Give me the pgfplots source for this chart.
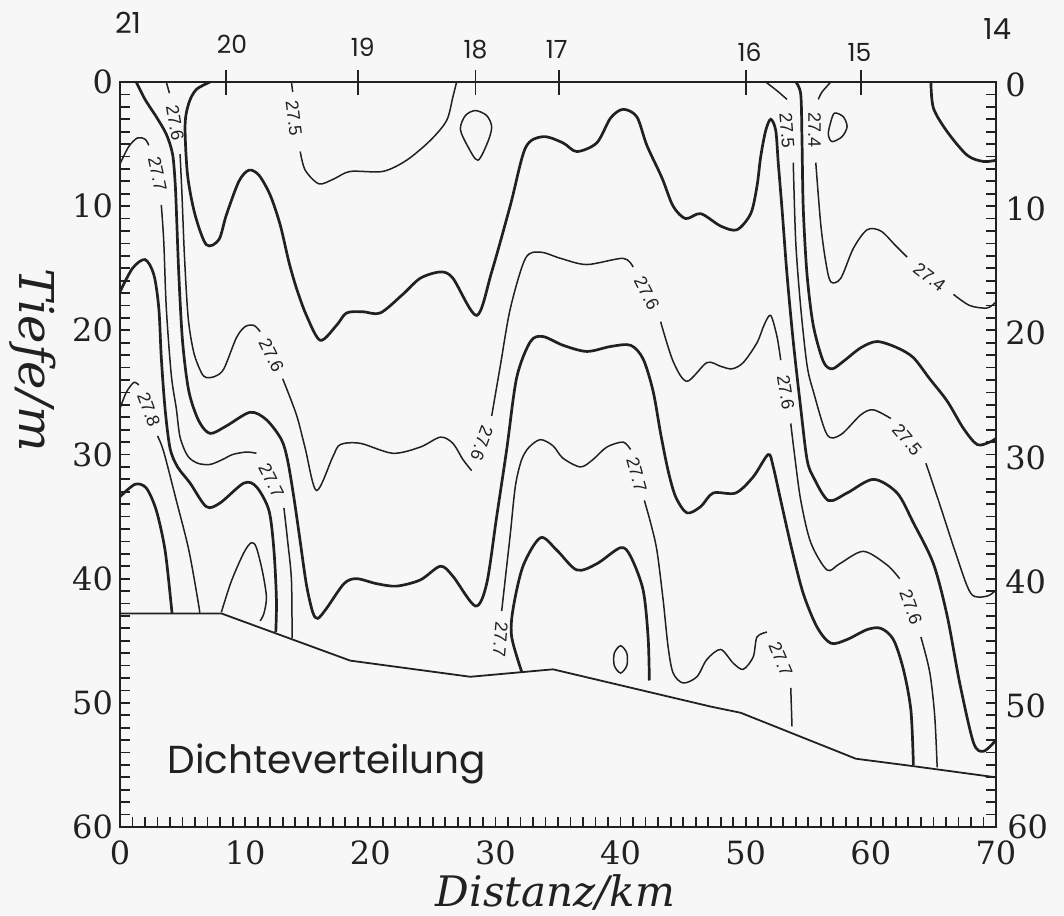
\documentclass[border=0pt]{standalone}
\usepackage{pgfplots}
\pgfplotsset{compat=1.18}
\usepackage{fontspec}
\newfontfamily\serifdv{DejaVu Serif}
\newfontfamily\popp{Poppins}
\newfontfamily\lsans{Liberation Sans}
\definecolor{ink}{gray}{0.13}
\pgfplotsset{
  thk/.style={line width=1.35pt, ink, smooth, tension=0.5, mark=none},
  thn/.style={line width=0.75pt, ink, smooth, tension=0.5, mark=none},
}
\tikzset{
  lbl/.style={font=\lsans\fontsize{9}{10}\selectfont, inner sep=0pt, text=ink},
  stn/.style={font=\popp\fontsize{12.5}{14}\selectfont, inner sep=0pt, text=ink},
  rtk/.style={font=\serifdv\fontsize{16}{18}\selectfont, inner sep=0pt, anchor=west, text=ink},
}
\begin{document}
\begin{tikzpicture}
\path[use as bounding box, fill=black!3] (-60pt,-44pt) rectangle (472pt,413.5pt);
\begin{axis}[
  at={(0pt,0pt)}, anchor=south west,
  scale only axis, width=438pt, height=372.5pt,
  xmin=0, xmax=70, ymin=0, ymax=60, y dir=reverse,
  axis line style={ink, line width=1pt},
  tick align=inside, xtick pos=left, ytick pos=both,
  xtick={0,10,...,70}, ytick={0,10,...,60},
  minor x tick num=9, minor y tick num=9,
  major tick length=5pt, minor tick length=5pt,
  every tick/.style={ink, line width=0.9pt},
  /pgf/number format/assume math mode=true,
  ticklabel style={font=\serifdv\fontsize{16}{18}\selectfont, text=ink},
  xticklabel style={yshift=-3.5pt},
  clip=false,
]
% sea floor
\addplot[ink, line width=0.9pt, mark=none] coordinates {(0,42.8)(8.1,42.8)(18.4,46.6)(28.0,47.9)(34.6,47.3)(47.2,50.3)(49.6,50.8)(58.8,54.5)(63.4,55.1)(70,56.0)};

% thick line A
\addplot[thk] coordinates {(1.3,0)(2.0,1.4)(2.9,2.8)(3.7,4.2)(4.2,5.8)(4.4,8)(4.5,10.2)(4.7,15.5)(5.0,20.9)(5.5,24.9)(6.3,27.3)(7.2,28.3)(8.5,27.7)(10.4,26.6)(11.7,27.2)(12.9,28.8)(13.4,30.5)(13.9,33.5)(14.4,37)(14.9,40.5)(15.4,42.7)(15.8,43.2)(16.5,42.4)(17.9,40.4)(18.9,40.0)(20.5,40.4)(22.1,40.6)(24.0,40.1)(25.6,39.0)(26.6,39.8)(28.4,42.2)(29.3,40.4)(30.1,35.0)(30.9,29.6)(31.7,23.8)(32.8,20.9)(33.8,20.5)(35.4,21.2)(37.3,21.7)(39.2,21.3)(40.8,21.2)(41.8,22.3)(42.6,24.9)(43.2,28.3)(43.8,31.3)(44.4,33.4)(45.3,34.7)(46.4,34.2)(47.4,33.1)(49.2,33.1)(50.6,31.8)(51.8,30.0)(52.2,31.0)(52.8,33.7)(53.7,37.7)(54.6,41.2)(55.7,43.9)(56.8,45.2)(58.1,44.9)(59.7,44.1)(60.8,44.0)(61.8,44.9)(62.6,47.3)(63.2,50.6)(63.4,55.0)};

% thick line H1
\addplot[thk] coordinates {(7.2,0)(6.1,0.6)(5.5,1.7)(5.2,3.5)(5.4,7.5)(6.0,10.7)(6.9,13.1)(7.9,12.7)(8.5,10.7)(9.5,8.0)(10.3,7.1)(11.1,7.5)(12.0,9.1)(12.8,11.5)(13.5,14.5)(14.1,16.6)(14.9,18.8)(16.0,20.8)(17.3,19.6)(18.1,18.6)(19.4,18.5)(20.8,18.6)(22.6,17.1)(24.0,15.8)(25.6,15.3)(26.6,15.8)(28.5,18.8)(29.7,15.3)(31.2,9.9)(32.4,5.3)(33.8,4.4)(35.4,4.9)(36.5,5.6)(38.1,4.9)(39.2,2.9)(40.2,2.2)(41.3,2.8)(42.1,5.1)(43.3,7.7)(44.2,10.0)(45.2,11.0)(46.4,10.6)(48.0,11.6)(49.3,11.9)(50.4,10.6)(50.9,8.4)(51.2,6.0)(51.6,3.9)(52.0,3.0)(52.4,3.9)(52.6,6.5)(52.9,10.2)(53.3,15.5)(53.8,20.9)(54.4,26.3)(54.9,30.4)(55.4,31.8)(56.6,33.7)(58.1,33.1)(60.2,32.0)(62.1,33.1)(63.4,35.5)(65.0,38.8)(66.1,43.0)(67.1,48.4)(68.2,53.2)(69.0,53.9)(70,53.0)};

% thin 27.6 main line
\addplot[thn] coordinates {(3.7,0)(3.95,0.9)};
\addplot[thn] coordinates {(4.8,5.8)(4.95,9)(5.15,14)(5.45,19)(5.9,21.8)(6.5,23.4)(6.9,23.8)(7.6,23.7)(8.3,23.1)(9.3,20.6)(10.0,19.7)(10.7,19.6)(11.2,20.1)};
\addplot[thn] coordinates {(13.0,23.9)(14.1,26.8)(14.8,29.5)(15.7,32.9)(17.0,30.2)(17.6,29.2)(19.2,29.1)(21.8,29.9)(24.0,29.4)(25.6,28.6)(26.6,29.1)(27.4,30.4)(28.1,31.3)};
\addplot[thn] coordinates {(29.7,26.9)(30.4,22.8)(31.2,18.2)(32.4,14.2)(33.6,13.7)(35.2,14.2)(37.3,14.7)(40.2,14.2)(41.0,14.9)};
\addplot[thn] coordinates {(43.2,19.3)(44.2,22.5)(45.3,24.1)(46.9,22.6)(48.0,22.9)(48.9,23.1)(49.8,22.6)(50.9,21.0)(51.5,19.5)(52.0,18.8)(52.5,20.5)(52.8,22.4)};
\addplot[thn] coordinates {(53.6,27.5)(53.9,30.0)(54.4,33.7)(55.2,37.1)(56.5,39.3)(57.5,38.8)(59.4,37.8)(61.3,38.9)(62.3,40.0)};
\addplot[thn] coordinates {(64.0,44.7)(64.7,47.5)(65.1,51)(65.3,55.2)};

% thin 27.5 (left)
\addplot[thn] coordinates {(13.7,0)(13.8,0.8)};
\addplot[thn] coordinates {(14.4,5.6)(14.8,7.1)(15.9,8.2)(17.1,7.8)(18.4,7.2)(21.0,7.2)(22.9,6.3)(24.8,4.7)(26.1,3.1)(26.6,1.2)(26.9,0)};

% thin 27.7 (left)
\addplot[thn] coordinates {(0,6.6)(0.7,5.2)(1.4,4.5)(2.0,4.6)(2.3,5.1)};
\addplot[thn] coordinates {(3.3,9.9)(3.5,12.9)(3.7,18.2)(4.1,23.6)(4.5,26.3)(4.8,28.6)(5.4,30.1)(6.2,30.7)(7.2,30.8)(8.2,30.4)(9.0,30.0)(10.1,29.8)(10.9,29.9)};
\addplot[thn] coordinates {(13.1,34.3)(13.4,37)(13.7,40.1)(13.75,44.8)};

% thin 27.8
\addplot[thn] coordinates {(0,26.3)(0.5,25.0)(1.1,24.2)(1.5,24.4)};
\addplot[thn] coordinates {(3.0,28.5)(3.5,29.8)(4.5,33.7)(5.5,37.7)(6.3,42.2)(6.35,42.8)};

% thick L1 and L0
\addplot[thk] coordinates {(0,16.9)(1.0,15.0)(2.0,14.3)(2.7,15.5)(3.1,18.2)(3.3,22.2)(3.6,26.3)(4.0,29.5)(4.6,31.0)(5.6,32.3)(6.9,34.2)(8.0,33.9)(9.9,32.3)(10.9,32.6)(11.9,34.5)(12.3,37.7)(12.5,41.7)(12.45,44.3)};
\addplot[thk] coordinates {(0,33.4)(1.2,32.4)(2.1,32.7)(2.9,34.5)(3.6,37.7)(4.1,42.2)(4.15,42.8)};

% inverted V thin
\addplot[thn] coordinates {(8.1,42.7)(8.9,40.2)(9.9,37.9)(10.5,37.1)(10.9,37.5)(11.4,39.5)(11.7,41.5)(11.5,42.8)(11.2,43.4)};

% thin 27.7 (middle)
\addplot[thn] coordinates {(30.5,42.6)(30.9,39)(31.2,36.3)(31.6,32.5)(32.1,30.4)(32.7,29.4)(33.6,28.8)(34.6,29.3)(35.4,30.3)(36.8,31.0)(37.8,30.4)(38.9,29.4)(40.2,29.0)(40.8,29.6)};
\addplot[thn] coordinates {(41.9,33.7)(42.4,35.5)(42.9,37.7)(43.4,41.7)(43.8,45.5)(44.2,47.6)(45.0,48.4)(46.1,47.9)(46.9,46.5)(48.0,45.7)(49.0,46.8)(49.8,47.3)(50.6,46.3)(50.9,44.7)(51.7,44.3)};
\addplot[thn] coordinates {(53.6,48.8)(53.7,51.9)};

% thick H3
\addplot[thk] coordinates {(32.1,47.5)(31.3,44.7)(31.4,42.5)(32.2,39.0)(33.6,36.7)(34.9,37.7)(36.5,39.3)(38.1,38.8)(40.0,37.5)(40.8,38.2)(41.8,40.9)(42.2,44.7)(42.3,48.2)};

% small closed contours
\addplot[thn, smooth cycle] coordinates {(40.0,45.4)(40.5,46.0)(40.5,47.0)(40.0,47.6)(39.5,47.0)(39.5,46.0)};
\addplot[thn, smooth cycle] coordinates {(28.4,2.3)(29.3,2.7)(29.7,3.6)(29.4,4.8)(28.6,6.3)(27.8,5.2)(27.2,3.8)(27.6,2.7)};
\addplot[thn, smooth cycle] coordinates {(57.1,2.5)(57.8,2.8)(58.1,3.6)(57.7,4.4)(56.9,4.8)(56.6,4.2)(56.8,3.2)};

% thin 27.5 (right)
\addplot[thn] coordinates {(51.6,0)(52.5,0.7)(53.3,1.4)};
\addplot[thn] coordinates {(53.8,6.5)(54.0,12.9)(54.4,18.2)(54.9,22.8)(55.4,24.9)(56.5,28.4)(57.6,28.4)(59.2,26.8)(60.2,26.4)(61.6,27.1)};
\addplot[thn] coordinates {(64.4,30.7)(65.5,34.0)(66.8,38.0)(68.0,41.2)(69.3,41.4)(70,40.9)};

% thick K
\addplot[thk] coordinates {(54.0,0)(54.4,1.0)(54.5,4.8)(54.6,10.2)(54.9,15.5)(55.4,19.6)(56.2,22.5)(56.9,23.1)(57.8,22.5)(59.2,21.4)(60.5,20.9)(62.1,21.4)(63.4,22.2)(64.7,23.9)(66.1,25.7)(67.4,27.9)(68.5,29.2)(69.5,29.0)(70,28.7)};

% thin 27.4 (right)
\addplot[thn] coordinates {(56.8,0)(56.1,0.8)(55.8,1.4)};
\addplot[thn] coordinates {(55.6,6.5)(56.0,11.5)(56.4,14.5)(56.8,16.1)(57.6,15.8)(58.6,13.4)(59.7,11.9)(60.8,12.0)(62.0,13.2)(62.9,14.1)};
\addplot[thn] coordinates {(66.6,17.1)(67.9,18.0)(69.3,18.2)(70,17.7)};

% thick top right
\addplot[thk] coordinates {(64.8,0)(65.0,2.1)(66.1,4.0)(67.7,5.9)(69.0,6.4)(70,6.3)};

% contour labels
\node[lbl, rotate=-80] at (axis cs:4.4,3.3) {27.6};
\node[lbl, rotate=-78] at (axis cs:3.0,7.4) {27.7};
\node[lbl, rotate=-83] at (axis cs:13.9,2.9) {27.5};
\node[lbl, rotate=-64] at (axis cs:12.1,22.0) {27.6};
\node[lbl, rotate=-70] at (axis cs:2.3,26.4) {27.8};
\node[lbl, rotate=-63] at (axis cs:12.1,32.1) {27.7};
\node[lbl, rotate=-110] at (axis cs:28.9,29.1) {27.6};
\node[lbl, rotate=-63] at (axis cs:42.1,17.0) {27.6};
\node[lbl, rotate=-95] at (axis cs:30.4,44.9) {27.7};
\node[lbl, rotate=-75] at (axis cs:41.3,31.6) {27.7};
\node[lbl, rotate=-85] at (axis cs:53.3,3.9) {27.5};
\node[lbl, rotate=-90] at (axis cs:55.5,3.9) {27.4};
\node[lbl, rotate=-81] at (axis cs:53.2,25.0) {27.6};
\node[lbl, rotate=-38] at (axis cs:64.7,15.7) {27.4};
\node[lbl, rotate=-50] at (axis cs:62.9,28.8) {27.5};
\node[lbl, rotate=-70] at (axis cs:63.2,42.3) {27.6};
\node[lbl, rotate=-67] at (axis cs:52.8,46.5) {27.7};

% station labels
\node[stn, font=\popp\fontsize{14.5}{16}\selectfont] at (axis cs:0.64,-4.8) {21};
\node[stn] at (axis cs:8.95,-3.0) {20};
\node[stn] at (axis cs:19.4,-2.8) {19};
\node[stn] at (axis cs:28.4,-2.6) {18};
\node[stn] at (axis cs:34.9,-2.65) {17};
\node[stn] at (axis cs:50.3,-2.4) {16};
\node[stn] at (axis cs:59.1,-2.4) {15};
\node[stn, font=\popp\fontsize{14.5}{16}\selectfont] at (axis cs:70.1,-4.3) {14};

% right tick labels
\node[rtk, xshift=4.5pt, yshift=-1.5pt] at (axis cs:70,0) {0};
\node[rtk, xshift=4.5pt, yshift=-1.5pt] at (axis cs:70,10) {10};
\node[rtk, xshift=4.5pt, yshift=-1.5pt] at (axis cs:70,20) {20};
\node[rtk, xshift=4.5pt, yshift=-1.5pt] at (axis cs:70,30) {30};
\node[rtk, xshift=4.5pt, yshift=-1.5pt] at (axis cs:70,40) {40};
\node[rtk, xshift=4.5pt, yshift=-1.5pt] at (axis cs:70,50) {50};
\node[rtk, xshift=5.5pt] at (axis cs:70,60) {60};

% titles
\node[font=\popp\fontsize{19.5}{22}\selectfont, anchor=base west, inner sep=0pt, text=ink] at (axis cs:3.76,55.7) {Dichteverteilung};
\node[font=\serifdv\itshape\fontsize{21}{24}\selectfont, text=ink, yshift=-32.5pt] at (axis cs:34.8,60) {Distanz/km};
\node[font=\serifdv\itshape\fontsize{24}{27}\selectfont, text=ink, rotate=-90, inner sep=0pt] at (axis cs:-7.0,22.4) {Tiefe/m};
\end{axis}
% top station ticks
\begin{axis}[
  at={(0pt,0pt)}, anchor=south west,
  scale only axis, width=438pt, height=372.5pt,
  xmin=0, xmax=70, ymin=0, ymax=60, y dir=reverse,
  axis x line*=top, axis y line=none,
  axis line style={draw=none},
  xtick={8.45,19.0,28.4,35.1,50.0,59.2}, xticklabels={},
  tick align=center, major tick length=12.5pt,
  every tick/.style={ink, line width=0.9pt},
  ytick=\empty,
]
\addplot[draw=none, mark=none] coordinates {(0,0)(70,60)};
\end{axis}
\end{tikzpicture}
\end{document}
